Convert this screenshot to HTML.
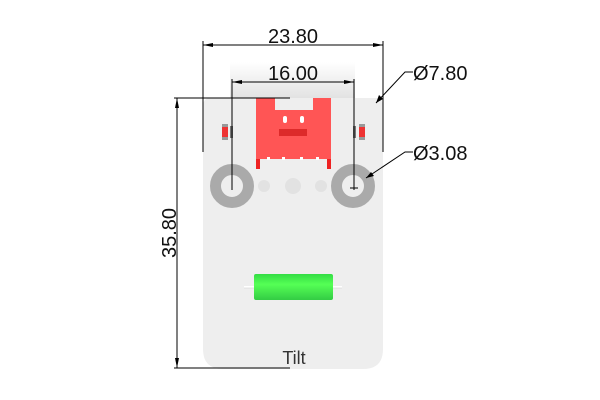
<!DOCTYPE html>
<html><head><style>html,body{margin:0;padding:0;background:#fff;}svg{display:block}</style></head>
<body>
<svg width="600" height="400" viewBox="0 0 600 400" xmlns="http://www.w3.org/2000/svg" font-family="Liberation Sans, sans-serif">
<defs>
<linearGradient id="sh" x1="0" y1="0" x2="0" y2="1"><stop offset="0" stop-color="#fff"/><stop offset="1" stop-color="#cfcfcf"/></linearGradient>
<linearGradient id="gr" x1="0" y1="0" x2="0" y2="1"><stop offset="0" stop-color="#33dd44"/><stop offset="0.4" stop-color="#55ff55"/><stop offset="1" stop-color="#33cc44"/></linearGradient>
</defs>
<rect x="230" y="62" width="125" height="36" fill="url(#sh)" opacity="0.6"/>
<path d="M211 98 H375 Q383 98 383 106 V349 Q383 369 363 369 H223 Q203 369 203 349 V106 Q203 98 211 98 Z" fill="#eeeeee"/>
<rect x="256" y="98" width="75" height="71" fill="#ff5555"/>
<rect x="275" y="98" width="38" height="12" fill="#eeeeee"/>
<rect x="283" y="116" width="4" height="7" rx="2" fill="#fff"/>
<rect x="300" y="116" width="4" height="7" rx="2" fill="#fff"/>
<rect x="279" y="129" width="28" height="7" fill="#dd2a2a"/>
<rect x="260" y="159" width="67" height="10" fill="#eeeeee"/>
<rect x="256" y="159" width="4" height="10" fill="#ee2222"/>
<rect x="327" y="159" width="4" height="10" fill="#ee2222"/>
<rect x="267" y="157" width="3" height="3" fill="#fff"/><rect x="282" y="157" width="3" height="3" fill="#fff"/><rect x="300" y="157" width="3" height="3" fill="#fff"/><rect x="316" y="157" width="3" height="3" fill="#fff"/>
<rect x="222" y="124" width="6" height="16" fill="#999"/><rect x="222" y="127" width="6" height="10" fill="#ee3333"/>
<rect x="230" y="126" width="3" height="12" fill="#777"/>
<rect x="359" y="124" width="6" height="16" fill="#999"/><rect x="359" y="127" width="6" height="10" fill="#ee3333"/>
<rect x="353" y="126" width="3" height="12" fill="#777"/>
<circle cx="232" cy="186" r="16.5" fill="none" stroke="#aaaaaa" stroke-width="11"/>
<circle cx="353" cy="186" r="16.5" fill="none" stroke="#aaaaaa" stroke-width="11"/>
<circle cx="264" cy="186" r="6" fill="#e2e2e2"/>
<circle cx="293" cy="186" r="8" fill="#e2e2e2"/>
<circle cx="321" cy="186" r="6" fill="#e2e2e2"/>
<line x1="244" y1="287" x2="342" y2="287" stroke="#fff" stroke-width="2"/>
<line x1="244" y1="288" x2="342" y2="288" stroke="#ccc" stroke-width="0.6"/>
<rect x="254" y="274" width="79" height="26" rx="2" fill="url(#gr)"/>
<text x="294" y="364" font-size="18" fill="#333" text-anchor="middle">Tilt</text>
<g stroke="#000" stroke-width="1" fill="none">
<line x1="203" y1="41" x2="203" y2="152"/><line x1="383" y1="41" x2="383" y2="152"/>
<line x1="203" y1="45" x2="383" y2="45"/>
<line x1="232" y1="79" x2="232" y2="190"/><line x1="354" y1="79" x2="354" y2="190"/>
<line x1="232" y1="82" x2="354" y2="82"/>
<line x1="174" y1="98" x2="290" y2="98"/><line x1="174" y1="368" x2="290" y2="368"/>
<line x1="177" y1="98" x2="177" y2="368"/>
<polyline points="413,72 405,72 376,103"/>
<polyline points="413,152 405,152 366,178"/>
<line x1="350" y1="188" x2="358" y2="188"/>
</g>
<g fill="#000">
<polygon points="203,45 213,43 213,47"/><polygon points="383,45 373,43 373,47"/>
<polygon points="232,82 242,80 242,84"/><polygon points="354,82 344,80 344,84"/>
<polygon points="177,98 175,108 179,108"/><polygon points="177,368 175,358 179,358"/>
<polygon points="376,103 379,95 383,99"/><polygon points="366,178 371,172 374,176"/>
</g>
<g font-size="20" fill="#111">
<text x="293" y="43" text-anchor="middle">23.80</text>
<text x="293" y="80" text-anchor="middle">16.00</text>
<text x="413" y="80">Ø7.80</text>
<text x="413" y="160">Ø3.08</text>
<text transform="translate(176,233) rotate(-90)" text-anchor="middle">35.80</text>
</g>
</svg>
</body></html>
